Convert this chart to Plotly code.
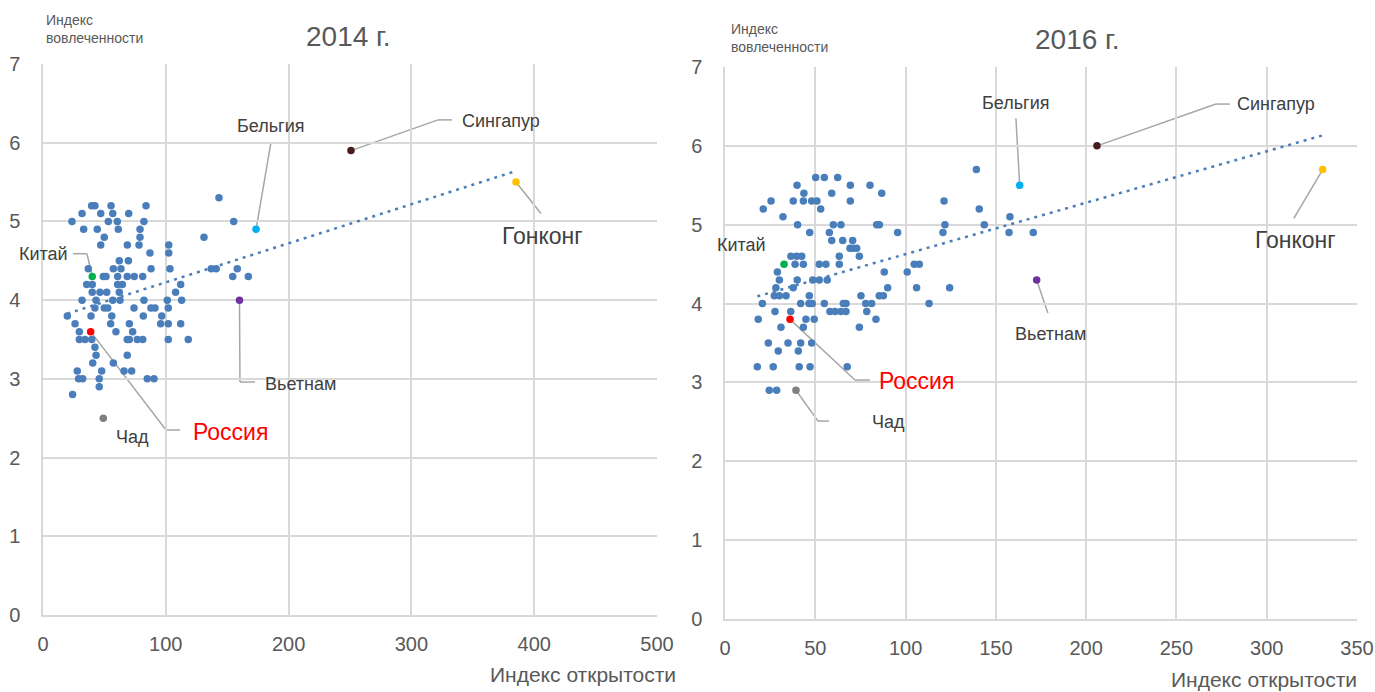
import plotly.graph_objects as go

W, H = 1375, 692

# ---------------- data: 2014 ----------------
X14_BLUE = [39.6, 42.3, 55.4, 83.9, 143.3,
            31.8, 47, 56.8, 69.8,
            23.6, 53.2, 60.5, 82.2, 155.3,
            33.1, 44.2, 61.3, 79,
            49.9, 79, 131.1,
            47, 68.7, 78.2, 102.4,
            87.1, 102.4,
            62.1, 69.5,
            36.9, 57.3, 63.5, 88, 103.4, 137, 141, 158.2,
            49.1, 51.3, 60.8, 68.6, 74.3, 81.2, 154.5, 167.2,
            35.6, 40.1, 60.8, 64.6, 112.1,
            40.1, 46.4, 51.9, 62.1, 108,
            31.8, 43.2, 56.8, 62.7, 82.2, 101.2, 112.9,
            42.3, 49.9, 52.7, 74.1, 87.9, 91.2, 102,
            19.8, 39.1, 56, 81.7, 96.7,
            26.1, 55.1, 70.3, 95.8, 102, 112.1,
            29.6, 59.4, 73,
            29.6, 34.2, 39.7, 68.6, 70.3, 76.8, 81.2, 102, 118.3,
            42.3,
            43.2, 68.6,
            40.5, 57.3,
            27.9, 47.8, 66, 72.2,
            29, 32.3, 45.8, 84.9, 90.4,
            45.8,
            24.1]
Y14_BLUE = [5.2, 5.2, 5.2, 5.2, 5.3,
            5.1, 5.1, 5.1, 5.1,
            5.0, 5.0, 5.0, 5.0, 5.0,
            4.9, 4.9, 4.9, 4.9,
            4.8, 4.8, 4.8,
            4.7, 4.7, 4.7, 4.7,
            4.6, 4.6,
            4.5, 4.5,
            4.4, 4.4, 4.4, 4.4, 4.4, 4.4, 4.4, 4.4,
            4.3, 4.3, 4.3, 4.3, 4.3, 4.3, 4.3, 4.3,
            4.2, 4.2, 4.2, 4.2, 4.2,
            4.1, 4.1, 4.1, 4.1, 4.1,
            4.0, 4.0, 4.0, 4.0, 4.0, 4.0, 4.0,
            3.9, 3.9, 3.9, 3.9, 3.9, 3.9, 3.9,
            3.8, 3.8, 3.8, 3.8, 3.8,
            3.7, 3.7, 3.7, 3.7, 3.7, 3.7,
            3.6, 3.6, 3.6,
            3.5, 3.5, 3.5, 3.5, 3.5, 3.5, 3.5, 3.5, 3.5,
            3.4,
            3.3, 3.3,
            3.2, 3.2,
            3.1, 3.1, 3.1, 3.1,
            3.0, 3.0, 3.0, 3.0, 3.0,
            2.9,
            2.8]

# ---------------- data: 2016 ----------------
X16_BLUE = [139.2,
            50.2, 55, 62.4,
            39.9, 69.4, 80.3,
            43.7, 59.1, 86.8,
            25.5, 37.8, 43.4, 48, 50.9, 69.4, 121.3,
            21.2, 53, 140.8,
            32.1, 157.8,
            40.2, 60, 64.2, 84, 85.5, 121.8, 143.6,
            46.9, 57.8, 95.6, 120.7, 157.3, 170.7,
            59.1, 65.2, 70.7,
            69.2, 71, 72.9,
            36.5, 39.7, 42.5, 63.3, 74.4,
            38.8, 43.4, 52.2, 55.9, 63.3, 104.8, 107.6,
            29, 88.2, 100.9,
            30.1, 40, 48.6, 52.2, 56.6,
            28.2, 37.8, 90.1, 106.1, 124.4,
            27.3, 30.1, 33.8, 46.7, 75.3, 85.4, 87.7,
            20.7, 41.9, 46.5, 48.3, 55, 65.5, 67, 77.9, 81.2, 113,
            27.7, 36.4, 58.1, 60.9, 64.2, 67, 78.5,
            18.4, 44.8, 49.4, 83.6,
            31, 43.4, 74.4,
            24, 34.9, 41.9, 48,
            29.5, 40.6,
            17.9, 26.7, 41.1, 47.1, 67.7,
            24.5, 28.6]
Y16_BLUE = [5.7,
            5.6, 5.6, 5.6,
            5.5, 5.5, 5.5,
            5.4, 5.4, 5.4,
            5.3, 5.3, 5.3, 5.3, 5.3, 5.3, 5.3,
            5.2, 5.2, 5.2,
            5.1, 5.1,
            5.0, 5.0, 5.0, 5.0, 5.0, 5.0, 5.0,
            4.9, 4.9, 4.9, 4.9, 4.9, 4.9,
            4.8, 4.8, 4.8,
            4.7, 4.7, 4.7,
            4.6, 4.6, 4.6, 4.6, 4.6,
            4.5, 4.5, 4.5, 4.5, 4.5, 4.5, 4.5,
            4.4, 4.4, 4.4,
            4.3, 4.3, 4.3, 4.3, 4.3,
            4.2, 4.2, 4.2, 4.2, 4.2,
            4.1, 4.1, 4.1, 4.1, 4.1, 4.1, 4.1,
            4.0, 4.0, 4.0, 4.0, 4.0, 4.0, 4.0, 4.0, 4.0, 4.0,
            3.9, 3.9, 3.9, 3.9, 3.9, 3.9, 3.9,
            3.8, 3.8, 3.8, 3.8,
            3.7, 3.7, 3.7,
            3.5, 3.5, 3.5, 3.5,
            3.4, 3.4,
            3.2, 3.2, 3.2, 3.2, 3.2,
            2.9, 2.9]

# highlighted countries
SPECIAL_NAMES = ["Китай", "Россия", "Чад", "Бельгия", "Вьетнам", "Сингапур", "Гонконг"]
SPECIAL_COLORS = ["#00B050", "#FF0000", "#7F7F7F", "#00B0F0", "#7030A0", "#4A1C1C", "#FFC000"]
X14_SPECIAL = [40.1, 38.8, 49.1, 173.5, 160.0, 250.8, 385.2]
Y14_SPECIAL = [4.3, 3.6, 2.5, 4.9, 4.0, 5.9, 5.5]
X16_SPECIAL = [32.7, 36.0, 39.3, 163.2, 172.6, 206.0, 331.0]
Y16_SPECIAL = [4.5, 3.8, 2.9, 5.5, 4.3, 6.0, 5.7]

# linear trend (slope, intercept)
TREND_2014 = (0.00496, 3.73)
TREND_2016 = (0.00652, 3.975)

X_TICKS_2014 = [0, 100, 200, 300, 400, 500]
X_TICKS_2016 = [0, 50, 100, 150, 200, 250, 300, 350]
Y_TICKS = [0, 1, 2, 3, 4, 5, 6, 7]

BLUE = "#4A7EBB"
GRID = "#D9D9D9"
LEADER = "#A6A6A6"
TXT = "#404040"
SANS = "Liberation Sans, Arial, sans-serif"

fig = go.Figure()


def add_panel(xs, ys, sx, sy, trend, xa, ya):
    fig.add_trace(go.Scatter(x=xs, y=ys, mode="markers", xaxis=xa, yaxis=ya,
                             marker=dict(color=BLUE, size=7.5, line=dict(width=0)),
                             hoverinfo="x+y"))
    allx = list(xs) + list(sx)
    x0, x1 = min(allx), max(allx)
    m, b = trend
    fig.add_trace(go.Scatter(x=[x0, x1], y=[m * x0 + b, m * x1 + b], mode="lines",
                             xaxis=xa, yaxis=ya,
                             line=dict(color=BLUE, width=2.5, dash="3px,5px"),
                             hoverinfo="skip"))
    fig.add_trace(go.Scatter(x=sx, y=sy, mode="markers", xaxis=xa, yaxis=ya,
                             marker=dict(color=SPECIAL_COLORS, size=7.5, line=dict(width=0)),
                             text=SPECIAL_NAMES, hoverinfo="text+x+y"))


add_panel(X14_BLUE, Y14_BLUE, X14_SPECIAL, Y14_SPECIAL, TREND_2014, "x", "y")
add_panel(X16_BLUE, Y16_BLUE, X16_SPECIAL, Y16_SPECIAL, TREND_2016, "x2", "y2")


def px_x(p):
    return p / W


def px_y(p):
    return 1 - p / H


axis_common = dict(showgrid=True, gridcolor=GRID, gridwidth=1.5, zeroline=False,
                   showline=True, linecolor=GRID, linewidth=1.5, ticks="",
                   tickfont=dict(family=SANS, size=20, color="#595959"),
                   fixedrange=True, automargin=False)

fig.update_layout(
    width=W, height=H, margin=dict(l=0, r=0, t=0, b=0, autoexpand=False),
    plot_bgcolor="white", paper_bgcolor="white", showlegend=False,
    xaxis=dict(domain=[px_x(43), px_x(657)], range=[0, 500], tickvals=X_TICKS_2014,
               anchor="y", ticklabelstandoff=10, **axis_common),
    yaxis=dict(domain=[px_y(615), px_y(64)], range=[0, 7], tickvals=Y_TICKS,
               anchor="x", ticklabelstandoff=17, **axis_common),
    xaxis2=dict(domain=[px_x(725), px_x(1357)], range=[0, 350], tickvals=X_TICKS_2016,
                anchor="y2", ticklabelstandoff=10, **axis_common),
    yaxis2=dict(domain=[px_y(619), px_y(67)], range=[0, 7], tickvals=Y_TICKS,
                anchor="x2", ticklabelstandoff=17, **axis_common),
)

# titles and axis titles (paper coordinates)
paper_texts = [
    ("2014 г.", 348, 36, 28, "#595959", "center"),
    ("2016 г.", 1077, 40, 28, "#595959", "center"),
    ("Индекс открытости", 583, 674, 21, "#595959", "center"),
    ("Индекс открытости", 1264, 679, 21, "#595959", "center"),
]
for t, x, y, s, c, al in paper_texts:
    fig.add_annotation(text=t, x=px_x(x), y=px_y(y), xref="paper", yref="paper",
                       showarrow=False, xanchor=al, yanchor="middle",
                       font=dict(size=s, color=c, family=SANS))

for x, y in [(44, 29), (729, 38)]:
    fig.add_annotation(text="Индекс<br>вовлеченности", x=px_x(x), y=px_y(y),
                       xref="paper", yref="paper", showarrow=False, align="left",
                       xanchor="left", yanchor="middle",
                       font=dict(size=14, color="#595959", family=SANS))

# country labels: (text, x, y, size, color) in data coords of each panel
LABELS_2014 = [
    ("Бельгия", 184.9, 6.21, 18, TXT),
    ("Сингапур", 373.0, 6.28, 18, TXT),
    ("Гонконг", 406.4, 4.82, 23, TXT),
    ("Китай", 0.8, 4.59, 18, TXT),
    ("Россия", 153.0, 2.33, 23, "#FF0000"),
    ("Чад", 72.5, 2.26, 18, TXT),
    ("Вьетнам", 209.3, 2.94, 18, TXT),
]
LABELS_2016 = [
    ("Бельгия", 161.1, 6.54, 18, TXT),
    ("Сингапур", 305.1, 6.53, 18, TXT),
    ("Гонконг", 316.2, 4.80, 23, TXT),
    ("Китай", 8.9, 4.74, 18, TXT),
    ("Россия", 105.8, 3.02, 23, "#FF0000"),
    ("Чад", 90.3, 2.50, 18, TXT),
    ("Вьетнам", 180.0, 3.61, 18, TXT),
]
# leader polylines (label side first; the country point is appended from the specials)
LEADERS_2014 = [
    ("Бельгия", [(185.7, 6.01)]),
    ("Сингапур", [(333.0, 6.29), (321.7, 6.29)]),
    ("Гонконг", [(405.5, 5.10)]),
    ("Китай", [(24.4, 4.59), (35.8, 4.59)]),
    ("Россия", [(111.6, 2.35), (100.2, 2.35)]),
    ("Вьетнам", [(172.6, 2.96), (160.4, 2.96)]),
]
LEADERS_2016 = [
    ("Бельгия", [(161.1, 6.35)]),
    ("Сингапур", [(279.6, 6.53), (271.9, 6.53)]),
    ("Гонконг", [(315.0, 5.08)]),
    ("Россия", [(80.3, 3.03), (72.0, 3.03)]),
    ("Чад", [(57.6, 2.51), (51.5, 2.51)]),
    ("Вьетнам", [(178.8, 3.88)]),
]

for labels, leaders, sx, sy, xr, yr in [
    (LABELS_2014, LEADERS_2014, X14_SPECIAL, Y14_SPECIAL, "x", "y"),
    (LABELS_2016, LEADERS_2016, X16_SPECIAL, Y16_SPECIAL, "x2", "y2"),
]:
    for name, pts in leaders:
        i = SPECIAL_NAMES.index(name)
        path = pts + [(sx[i], sy[i])]
        for (a, b), (c, d) in zip(path[:-1], path[1:]):
            fig.add_shape(type="line", x0=a, y0=b, x1=c, y1=d, xref=xr, yref=yr,
                          line=dict(color=LEADER, width=1.5), layer="below")
    for t, x, y, s, c in labels:
        fig.add_annotation(text=t, x=x, y=y, xref=xr, yref=yr, showarrow=False,
                           xanchor="center", yanchor="middle",
                           font=dict(size=s, color=c, family=SANS))

fig.write_html("out.html", config={"displayModeBar": False},
               post_script="document.body.style.margin='0';"
                           "document.body.style.overflow='hidden';")
